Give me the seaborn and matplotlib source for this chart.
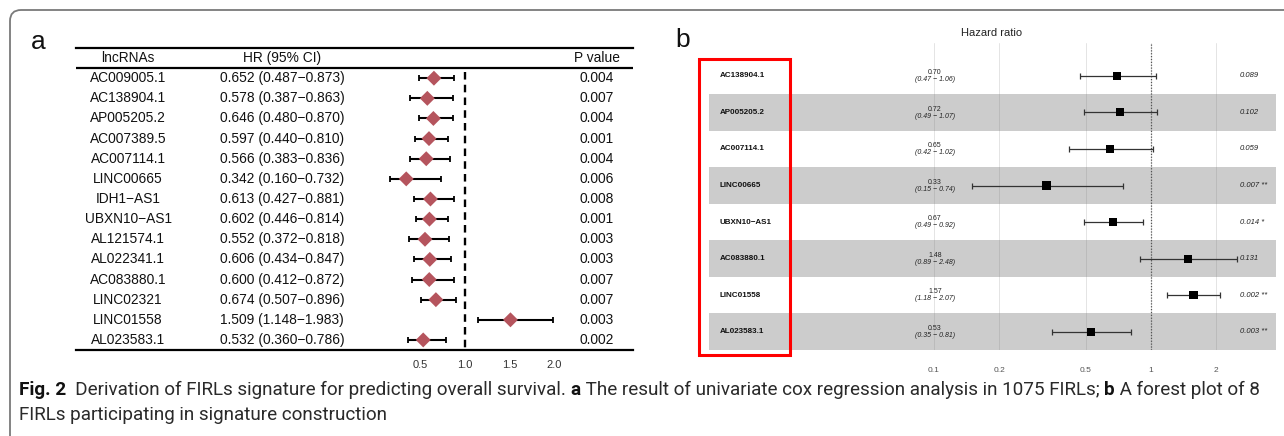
import numpy as np
import pandas as pd
import matplotlib
matplotlib.use("Agg")
import matplotlib.pyplot as plt
import matplotlib.transforms as mtransforms
from matplotlib.patches import FancyBboxPatch, Rectangle
import seaborn as sns

# ---------------- data: panel a ----------------
genes_a = ["AC009005.1", "AC138904.1", "AP005205.2", "AC007389.5", "AC007114.1",
           "LINC00665", "IDH1\u2212AS1", "UBXN10\u2212AS1", "AL121574.1", "AL022341.1",
           "AC083880.1", "LINC02321", "LINC01558", "AL023583.1"]
hr_a = [0.652, 0.578, 0.646, 0.597, 0.566, 0.342, 0.613, 0.602, 0.552, 0.606,
        0.600, 0.674, 1.509, 0.532]
lo_a = [0.487, 0.387, 0.480, 0.440, 0.383, 0.160, 0.427, 0.446, 0.372, 0.434,
        0.412, 0.507, 1.148, 0.360]
hi_a = [0.873, 0.863, 0.870, 0.810, 0.836, 0.732, 0.881, 0.814, 0.818, 0.847,
        0.872, 0.896, 1.983, 0.786]
p_a = ["0.004", "0.007", "0.004", "0.001", "0.004", "0.006", "0.008", "0.001",
       "0.003", "0.003", "0.007", "0.007", "0.003", "0.002"]
ticks_a = [0.5, 1.0, 1.5, 2.0]
headers_a = ["lncRNAs", "HR (95% CI)", "P value"]

# ---------------- data: panel b ----------------
genes_b = ["AC138904.1", "AP005205.2", "AC007114.1", "LINC00665", "UBXN10\u2212AS1",
           "AC083880.1", "LINC01558", "AL023583.1"]
hr_b = [0.70, 0.72, 0.65, 0.33, 0.67, 1.48, 1.57, 0.53]
lo_b = [0.47, 0.49, 0.42, 0.15, 0.49, 0.89, 1.18, 0.35]
hi_b = [1.06, 1.07, 1.02, 0.74, 0.92, 2.48, 2.07, 0.81]
p_b = ["0.089", "0.102", "0.059", "0.007 **", "0.014 *", "0.131", "0.002 **", "0.003 **"]
ticks_b = [0.1, 0.2, 0.5, 1, 2]
tick_labels_b = ["0.1", "0.2", "0.5", "1", "2"]

caption_line1 = [("Fig. 2", True),
                 ("  Derivation of FIRLs signature for predicting overall survival. ", False),
                 ("a", True),
                 (" The result of univariate cox regression analysis in 1075 FIRLs; ", False),
                 ("b", True),
                 (" A forest plot of 8", False)]
caption_line2 = "FIRLs participating in signature construction"

# ---------------- style ----------------
sns.set_theme(style="white")
plt.rcParams['font.family'] = ['Liberation Sans', 'DejaVu Sans']
CAP_FAMILY = ['Roboto', 'Liberation Sans', 'DejaVu Sans']

W, H = 1284, 436
fig = plt.figure(figsize=(W / 100, H / 100), dpi=100)
fig.patch.set_facecolor("white")


def rect(x0, y0, x1, y1):
    return [x0 / W, 1 - y1 / H, (x1 - x0) / W, (y1 - y0) / H]


# outer rounded frame
frame = FancyBboxPatch((10, -60), W + 100, (H - 10) + 60,
                       boxstyle="round,pad=0,rounding_size=11",
                       transform=None, facecolor="none", edgecolor="#7a7a7a",
                       linewidth=1.3)
fig.add_artist(frame)

# ================= panel a =================
axa = fig.add_axes(rect(76, 48, 633, 350))
px_per_unit = 89.3
axa.set_xlim(1 + (76 - 465) / px_per_unit, 1 + (633 - 465) / px_per_unit)
axa.set_ylim(13.5, -1.5)
ya = np.arange(len(genes_a))
df_a = pd.DataFrame({"gene": genes_a, "hr": hr_a, "lo": lo_a, "hi": hi_a, "y": ya})

for s in ["left", "right"]:
    axa.spines[s].set_visible(False)
for s in ["top", "bottom"]:
    axa.spines[s].set_linewidth(1.6)
    axa.spines[s].set_color("black")
axa.axhline(-0.5, color="black", lw=1.6)
axa.plot([1, 1], [-0.3, 13.5], color="black", lw=1.7, ls=(0, (3.2, 2.2)), zorder=1)

axa.errorbar(df_a["hr"], df_a["y"],
             xerr=[df_a["hr"] - df_a["lo"], df_a["hi"] - df_a["hr"]],
             fmt="none", ecolor="black", elinewidth=1.5, capsize=2.3, capthick=1.3, zorder=2)
sns.scatterplot(data=df_a, x="hr", y="y", marker="D", s=58, color="#b5545d",
                edgecolor="none", linewidth=0, zorder=3, ax=axa, legend=False)
axa.set_xlabel("")
axa.set_ylabel("")
axa.set_yticks([])
axa.set_xticks(ticks_a)
axa.set_xticklabels([f"{t:.1f}" for t in ticks_a])
axa.tick_params(axis="x", length=0, pad=7, labelsize=8, labelcolor="#333333")
axa.set_ylim(13.5, -1.5)

trans_a = mtransforms.blended_transform_factory(axa.transAxes, axa.transData)
col_x = [(128 - 76) / 557, (282 - 76) / 557, (597 - 76) / 557]
fs_a = 9.9
for cx, htxt in zip(col_x, headers_a):
    axa.text(cx, -1, htxt, transform=trans_a, ha="center", va="center",
             fontsize=fs_a, color="#111111")
for i in range(len(genes_a)):
    axa.text(col_x[0], ya[i], genes_a[i], transform=trans_a, ha="center",
             va="center", fontsize=fs_a, color="#111111")
    axa.text(col_x[1], ya[i], f"{hr_a[i]:.3f} ({lo_a[i]:.3f}\u2212{hi_a[i]:.3f})",
             transform=trans_a, ha="center", va="center", fontsize=fs_a, color="#111111")
    axa.text(col_x[2], ya[i], p_a[i], transform=trans_a, ha="center",
             va="center", fontsize=fs_a, color="#111111")

fig.text(38 / W, 1 - 42 / H, "a", fontsize=19, ha="center", va="center", color="#111111")

# ================= panel b =================
axb = fig.add_axes(rect(709, 43, 1276, 350))
axb.set_xscale("log")
axb.set_xlim(10 ** ((709 - 1151) / 217), 10 ** ((1276 - 1151) / 217))
axb.set_ylim(7.5, -0.9)
for s in axb.spines.values():
    s.set_visible(False)
yb = np.arange(len(genes_b))
df_b = pd.DataFrame({"gene": genes_b, "hr": hr_b, "lo": lo_b, "hi": hi_b, "y": yb})

for i in range(len(genes_b)):
    if i % 2 == 1:
        axb.axhspan(i - 0.5, i + 0.5, color="#cccccc", lw=0, zorder=0)
for t in ticks_b:
    axb.axvline(t, color="#777777", alpha=0.2, lw=0.7, zorder=0.5)
axb.axvline(1, color="#555555", ls=(0, (1, 1.3)), lw=0.9, zorder=0.6)

axb.errorbar(df_b["hr"], df_b["y"],
             xerr=[df_b["hr"] - df_b["lo"], df_b["hi"] - df_b["hr"]],
             fmt="none", ecolor="#333333", elinewidth=0.9, capsize=2.3, capthick=0.9, zorder=2)
sns.scatterplot(data=df_b, x="hr", y="y", marker="s", s=34, color="black",
                edgecolor="none", linewidth=0, zorder=3, ax=axb, legend=False)
axb.set_xlabel("")
axb.set_ylabel("")
axb.set_yticks([])
axb.set_xticks(ticks_b)
axb.set_xticklabels(tick_labels_b)
axb.xaxis.set_minor_locator(matplotlib.ticker.NullLocator())
axb.tick_params(axis="x", length=0, pad=12, labelsize=6.0, labelcolor="#555555")
axb.set_ylim(7.5, -0.9)

trans_b = mtransforms.blended_transform_factory(axb.transAxes, axb.transData)
name_x = (720 - 709) / 567
hr_x = (935 - 709) / 567
p_x = (1240 - 709) / 567
for i in range(len(genes_b)):
    axb.text(name_x, yb[i], genes_b[i], transform=trans_b, ha="left", va="center",
             fontsize=5.8, fontweight="bold", color="#111111")
    axb.text(hr_x, yb[i] - 0.09, f"{hr_b[i]:.2f}", transform=trans_b, ha="center",
             va="center", fontsize=5.0, color="#222222")
    axb.text(hr_x, yb[i] + 0.10, f"({lo_b[i]:.2f} \u2212 {hi_b[i]:.2f})", transform=trans_b,
             ha="center", va="center", fontsize=5.0, style="italic", color="#222222")
    axb.text(p_x, yb[i], p_b[i], transform=trans_b, ha="left", va="center",
             fontsize=5.5, style="italic", color="#222222")

fig.text(992 / W, 1 - 33 / H, "Hazard ratio", fontsize=8, ha="center", va="center",
         color="#222222")
fig.text(683 / W, 1 - 40 / H, "b", fontsize=19, ha="center", va="center", color="#111111")

red = Rectangle((699, H - 354.7), 790 - 699, 354.7 - 58.7, transform=None,
                facecolor="none", edgecolor="#ff0000", linewidth=2.2)
fig.add_artist(red)

# ================= caption =================
renderer = fig.canvas.get_renderer()


def run_width(s, bold, size):
    kw = dict(fontsize=size, fontweight="bold" if bold else "normal", family=CAP_FAMILY)
    t1 = fig.text(0, 0, "|" + s + "|", **kw)
    t2 = fig.text(0, 0, "||", **kw)
    w = t1.get_window_extent(renderer).width - t2.get_window_extent(renderer).width
    t1.remove()
    t2.remove()
    return w


size0 = 10.0
total = sum(run_width(s, b, size0) for s, b in caption_line1)
size = size0 * (1268 - 19) / total
x = 19.0
for s, b in caption_line1:
    fig.text(x / W, 1 - 395 / H, s, fontsize=size, fontweight="bold" if b else "normal",
             family=CAP_FAMILY, ha="left", va="baseline",
             color="#111111" if b else "#2a2a2a")
    x += run_width(s, b, size)
fig.text(19 / W, 1 - 420 / H, caption_line2, fontsize=size, family=CAP_FAMILY,
         ha="left", va="baseline", color="#2a2a2a")

fig.savefig("out.png", dpi=100, facecolor="white")
